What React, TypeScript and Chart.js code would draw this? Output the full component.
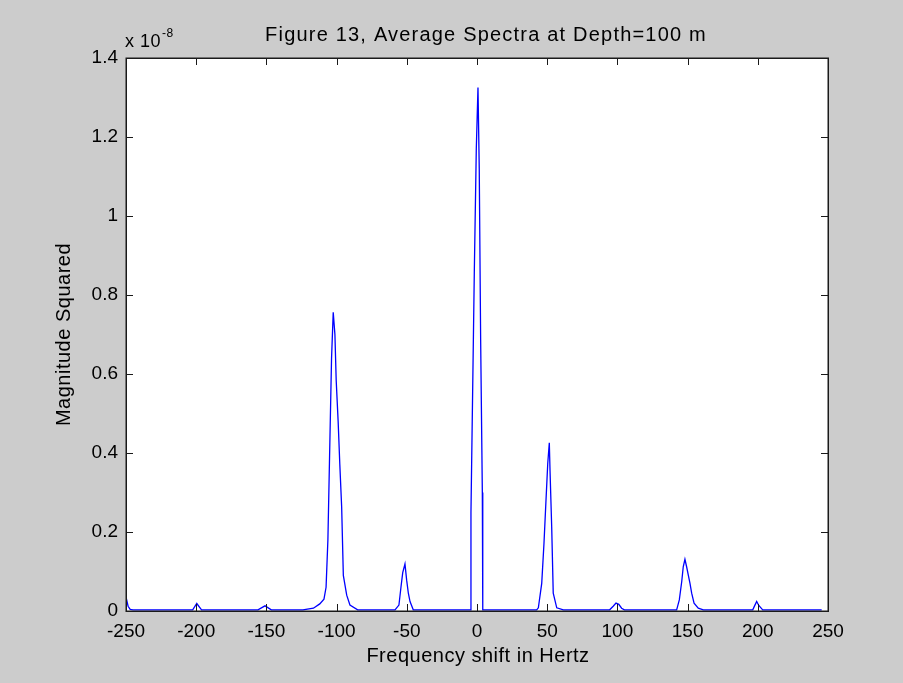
import React, { useEffect, useRef } from "react";
import { Chart, registerables } from "chart.js";

Chart.register(...registerables);

// Frequency shift in Hertz (x) and magnitude squared in units of 1e-8 (y)
const freqHz: number[] = [
  -250, -248.5, -247, -245,
  -202.5, -199.6, -196.2,
  -156, -151, -146.5,
  -124, -116.5, -112, -109, -107.5, -106.2, -104.9, -103.6, -102.4, -101.2, -100.3, -98.9, -97.7, -96.4, -95.2, -92.8, -90.5, -85,
  -58.4, -55.6, -54.1, -52.9, -51.3, -50.1, -48.9, -47.7, -45.4,
  -4.5, -4.3, -3.1, -1.9, -0.5, 0.7, 1.6, 2.6, 3.8, 4.1,
  42.5, 43.7, 46.1, 47.7, 49.1, 50.4, 51.5, 52.0, 53.2, 54.3, 56.8, 61.5,
  94.5, 97, 99, 101, 103, 105,
  142.2, 144.1, 145.8, 146.9, 148.1, 149.3, 150.5, 151.7, 152.9, 154.6, 157.6, 161.2,
  196.4, 197.7, 199.2, 200.7, 203.5,
  245.5,
];

const magnitude: number[] = [
  0.036, 0.012, 0.004, 0.003,
  0.003, 0.019, 0.003,
  0.003, 0.013, 0.003,
  0.003, 0.007, 0.018, 0.03, 0.06, 0.18, 0.41, 0.64, 0.756, 0.70, 0.585, 0.48, 0.37, 0.264, 0.09, 0.04, 0.015, 0.003,
  0.003, 0.015, 0.062, 0.097, 0.119, 0.078, 0.045, 0.024, 0.003,
  0.003, 0.25, 0.556, 0.862, 1.17, 1.325, 1.12, 0.687, 0.30, 0.003,
  0.003, 0.008, 0.07, 0.171, 0.277, 0.374, 0.426, 0.357, 0.213, 0.045, 0.008, 0.003,
  0.003, 0.012, 0.02, 0.017, 0.007, 0.003,
  0.003, 0.028, 0.074, 0.112, 0.131, 0.112, 0.091, 0.07, 0.045, 0.02, 0.007, 0.003,
  0.003, 0.013, 0.024, 0.014, 0.003,
  0.003,
];

const xTickStep = 50;
const yTickStep = 0.2;
const titleText = "Figure 13, Average Spectra at Depth=100 m";
const xLabelText = "Frequency shift in Hertz";
const yLabelText = "Magnitude Squared";
const exponentBase = "x 10";
const exponentPower = "-8";

const FONT = "'Liberation Sans', Arial, sans-serif";

const matlabAxesPlugin = {
  id: "matlabAxes",
  beforeDraw(chart: any) {
    const { ctx, chartArea } = chart;
    ctx.save();
    ctx.fillStyle = "#ffffff";
    ctx.fillRect(chartArea.left, chartArea.top, chartArea.right - chartArea.left, chartArea.bottom - chartArea.top);
    ctx.restore();
  },
  afterDraw(chart: any) {
    const { ctx, chartArea } = chart;
    const { left, right, top, bottom } = chartArea;
    const xs = chart.scales.x;
    const ys = chart.scales.y;
    const tl = 7;
    ctx.save();
    ctx.strokeStyle = "#1a1a1a";
    ctx.lineWidth = 1;
    ctx.beginPath();
    xs.ticks.forEach((t: any) => {
      const px = Math.round(xs.getPixelForValue(t.value)) + 0.5;
      ctx.moveTo(px, bottom);
      ctx.lineTo(px, bottom - tl);
      ctx.moveTo(px, top);
      ctx.lineTo(px, top + tl);
    });
    ys.ticks.forEach((t: any) => {
      const py = Math.round(ys.getPixelForValue(t.value)) + 0.5;
      ctx.moveTo(left, py);
      ctx.lineTo(left + tl, py);
      ctx.moveTo(right, py);
      ctx.lineTo(right - tl, py);
    });
    ctx.stroke();
    ctx.lineWidth = 1.5;
    ctx.strokeRect(Math.round(left) + 0.25, Math.round(top) + 0.25, Math.round(right - left), Math.round(bottom - top));

    ctx.fillStyle = "#000000";
    ctx.textAlign = "center";
    ctx.textBaseline = "middle";
    // title
    ctx.font = `20px ${FONT}`;
    (ctx as any).letterSpacing = "1.2px";
    ctx.fillText(titleText, 486, 35);
    // x label
    (ctx as any).letterSpacing = "0.5px";
    ctx.fillText(xLabelText, 478, 656);
    // y label
    ctx.save();
    ctx.translate(64, (top + bottom) / 2);
    ctx.rotate(-Math.PI / 2);
    ctx.fillText(yLabelText, 0, 0);
    ctx.restore();
    // exponent
    (ctx as any).letterSpacing = "0.5px";
    ctx.textAlign = "left";
    ctx.textBaseline = "alphabetic";
    ctx.font = `18px ${FONT}`;
    ctx.fillText(exponentBase, 125, 47);
    const w = ctx.measureText(exponentBase).width;
    ctx.font = `12px ${FONT}`;
    ctx.fillText(exponentPower, 125 + w + 1, 37);
    (ctx as any).letterSpacing = "0px";
    ctx.restore();
  },
};

export default function App() {
  const ref = useRef<HTMLCanvasElement | null>(null);
  useEffect(() => {
    document.body.style.margin = "0";
    const canvas = ref.current!;
    const points = freqHz.map((f, i) => ({ x: f, y: magnitude[i] }));
    const chart = new Chart(canvas, {
      type: "line",
      data: {
        datasets: [
          {
            data: points,
            borderColor: "#0000ff",
            borderWidth: 1.3,
            pointRadius: 0,
            tension: 0,
            fill: false,
          },
        ],
      },
      options: {
        animation: false,
        responsive: false,
        devicePixelRatio: 1,
        events: [],
        layout: { padding: { left: 0, top: 58, right: 75, bottom: 0 } },
        plugins: { legend: { display: false }, tooltip: { enabled: false }, title: { display: false } },
        scales: {
          x: {
            type: "linear",
            min: -250,
            max: 250,
            grid: { display: false, drawTicks: false },
            border: { display: false },
            ticks: {
              stepSize: xTickStep,
              padding: 9,
              color: "#000",
              font: { family: FONT, size: 19 },
              maxRotation: 0,
              autoSkip: false,
              callback: (v: any) => String(v),
            },
            afterFit: (s: any) => {
              s.height = 72;
            },
          },
          y: {
            type: "linear",
            min: 0,
            max: 1.4,
            grid: { display: false, drawTicks: false },
            border: { display: false },
            ticks: {
              stepSize: yTickStep,
              padding: 8,
              color: "#000",
              font: { family: FONT, size: 19 },
              autoSkip: false,
              callback: (v: any) => String(Number(Number(v).toFixed(1))),
            },
            afterFit: (s: any) => {
              s.width = 126;
            },
          },
        },
      },
      plugins: [matlabAxesPlugin],
    });
    return () => chart.destroy();
  }, []);
  return (
    <div style={{ position: "fixed", left: 0, top: 0, width: 903, height: 683, background: "#cccccc" }}>
      <canvas ref={ref} width={903} height={683} style={{ display: "block" }} />
    </div>
  );
}
